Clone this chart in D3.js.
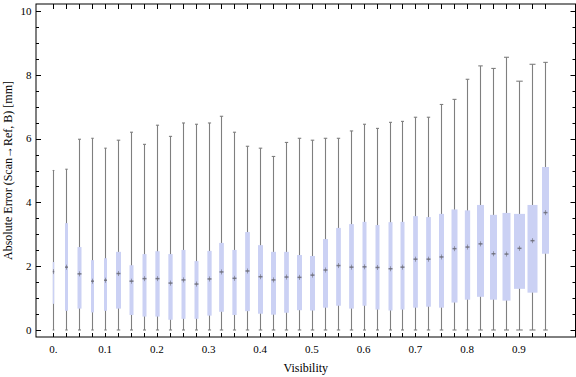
<!DOCTYPE html>
<html>
<head>
<meta charset="utf-8">
<script src="https://cdn.jsdelivr.net/npm/d3@7"></script>
<style>
  html, body { margin: 0; padding: 0; background: #fff; }
  svg { display: block; }
  text { font-family: "Liberation Serif", "DejaVu Serif", serif; fill: #000; }
</style>
</head>
<body>
<svg id="chart" width="576" height="377"></svg>
<script>
// ---- data ----
const visibility = [0, 0.025, 0.05, 0.075, 0.1, 0.125, 0.15, 0.175, 0.2, 0.225,
  0.25, 0.275, 0.3, 0.325, 0.35, 0.375, 0.4, 0.425, 0.45, 0.475,
  0.5, 0.525, 0.55, 0.575, 0.6, 0.625, 0.65, 0.675, 0.7, 0.725,
  0.75, 0.775, 0.8, 0.825, 0.85, 0.875, 0.9, 0.925, 0.95];
const whiskerMin = [0, 0, 0, 0, 0, 0, 0, 0, 0, 0,
  0, 0, 0, 0, 0, 0, 0, 0, 0, 0,
  0, 0, 0, 0, 0, 0, 0, 0, 0, 0,
  0, 0, 0, 0, 0, 0, 0, 0, 0];
const q1 = [0.82, 0.60, 0.67, 0.55, 0.60, 0.67, 0.47, 0.42, 0.42, 0.32,
  0.35, 0.35, 0.45, 0.57, 0.47, 0.59, 0.51, 0.48, 0.54, 0.62,
  0.61, 0.70, 0.76, 0.67, 0.76, 0.64, 0.61, 0.64, 0.70, 0.73,
  0.70, 0.86, 0.95, 1.04, 0.95, 0.92, 1.29, 1.17, 2.39];
const median = [1.83, 1.97, 1.76, 1.53, 1.56, 1.77, 1.53, 1.61, 1.61, 1.47,
  1.57, 1.44, 1.60, 1.82, 1.62, 1.85, 1.67, 1.57, 1.66, 1.65,
  1.72, 1.88, 2.02, 1.97, 1.98, 1.96, 1.92, 1.97, 2.22, 2.22,
  2.29, 2.55, 2.60, 2.70, 2.39, 2.38, 2.56, 2.80, 3.68];
const q3 = [2.13, 3.35, 2.60, 2.19, 2.25, 2.45, 2.03, 2.38, 2.47, 2.38,
  2.51, 2.16, 2.48, 2.73, 2.51, 3.07, 2.66, 2.45, 2.45, 2.35,
  2.32, 2.85, 3.20, 3.32, 3.39, 3.29, 3.38, 3.39, 3.57, 3.54,
  3.64, 3.78, 3.75, 3.92, 3.61, 3.67, 3.64, 3.92, 5.11];
const whiskerMax = [5.00, 5.04, 5.98, 6.01, 5.70, 5.95, 6.20, 5.82, 6.42, 6.07,
  6.49, 6.45, 6.49, 6.70, 6.20, 5.76, 5.70, 5.44, 5.88, 6.01,
  5.95, 6.01, 6.01, 6.24, 6.45, 6.32, 6.51, 6.54, 6.67, 6.67,
  7.07, 7.23, 7.86, 8.28, 8.20, 8.55, 7.80, 8.33, 8.39];
// relative box weight (drawn as box width)
const boxWeight = [1.5, 3, 4, 3, 3, 5, 4, 4, 4.3, 4.3,
  4, 4, 4.3, 4.7, 4.3, 4.7, 5, 5, 4.7, 5,
  5, 5, 4.7, 4.7, 4, 4, 4, 4, 4.7, 4.7,
  5, 6, 5.3, 7, 7, 8, 11, 10, 7];
const xTickLabels = ["0.", "0.1", "0.2", "0.3", "0.4", "0.5", "0.6", "0.7", "0.8", "0.9"];
const xTickValues = [0, 0.1, 0.2, 0.3, 0.4, 0.5, 0.6, 0.7, 0.8, 0.9];
const yTickValues = [0, 2, 4, 6, 8, 10];
const yMinorValues = [0.5, 1, 1.5, 2.5, 3, 3.5, 4.5, 5, 5.5, 6.5, 7, 7.5, 8.5, 9, 9.5];
const yLabel = "Absolute Error (Scan\u2192Ref, B) [mm]";
const xLabel = "Visibility";

// ---- layout ----
const L = 36, R = 575.5, T = 4, B = 337;
const svg = d3.select("#chart");
const x = d3.scaleLinear().domain([-0.0335, 1.0095]).range([L, R]);
const y = d3.scaleLinear().domain([-0.22, 10.22]).range([B, T]);
const w = d3.scaleLinear().domain([0, 11]).range([0, 11]);

const boxColor = "#cbd1f4";
const whiskerColor = "#7f7f7f";

const data = visibility.map((v, i) => ({
  v, lo: whiskerMin[i], q1: q1[i], med: median[i], q3: q3[i], hi: whiskerMax[i], wt: boxWeight[i]
}));

const g = svg.append("g");
// whiskers
g.selectAll("line.wh").data(data).enter().append("line")
  .attr("x1", d => Math.round(x(d.v)) + 0.5).attr("x2", d => Math.round(x(d.v)) + 0.5)
  .attr("y1", d => y(d.lo)).attr("y2", d => y(d.hi))
  .attr("stroke", whiskerColor).attr("stroke-width", 1.1);
// caps
["hi", "lo"].forEach(k => {
  g.selectAll("line.cap" + k).data(data).enter().append("line")
    .attr("x1", d => Math.round(x(d.v)) + 0.5 - (w(d.wt) * 0.5 + 1) / 2)
    .attr("x2", d => Math.round(x(d.v)) + 0.5 + (w(d.wt) * 0.5 + 1) / 2)
    .attr("y1", d => y(d[k])).attr("y2", d => y(d[k]))
    .attr("stroke", whiskerColor).attr("stroke-width", 1.1);
});
// boxes
g.selectAll("rect.box").data(data).enter().append("rect")
  .attr("x", d => Math.round(x(d.v)) + 0.5 - w(d.wt) / 2)
  .attr("width", d => w(d.wt))
  .attr("y", d => y(d.q3))
  .attr("height", d => y(d.q1) - y(d.q3))
  .attr("fill", boxColor);
// median markers
g.selectAll("rect.medh").data(data).enter().append("rect")
  .attr("x", d => Math.round(x(d.v)) + 0.5 - Math.min(w(d.wt), 4) / 2)
  .attr("width", d => Math.min(w(d.wt), 4))
  .attr("y", d => y(d.med) - 0.75).attr("height", 1.5)
  .attr("fill", "#6a6a74").attr("opacity", 0.85);
g.selectAll("rect.medv").data(data).enter().append("rect")
  .attr("x", d => Math.round(x(d.v)))
  .attr("width", 1)
  .attr("y", d => y(d.med) - 2.5).attr("height", 5)
  .attr("fill", "#6a6a74").attr("opacity", 0.6);

// frame
svg.append("rect").attr("x", L).attr("y", T).attr("width", R - L).attr("height", B - T)
  .attr("fill", "none").attr("stroke", "#000").attr("stroke-width", 1);

// x ticks (bottom and top) at every box position
const ax = svg.append("g").attr("stroke", "#000").attr("stroke-width", 1);
visibility.forEach(v => {
  const px = Math.round(x(v)) + 0.5;
  ax.append("line").attr("x1", px).attr("x2", px).attr("y1", B).attr("y2", B - 4);
  ax.append("line").attr("x1", px).attr("x2", px).attr("y1", T).attr("y2", T + 5);
});
// y ticks (left and right)
yTickValues.forEach(v => {
  const py = Math.round(y(v)) + 0.5;
  ax.append("line").attr("x1", L).attr("x2", L + 5).attr("y1", py).attr("y2", py);
  ax.append("line").attr("x1", R).attr("x2", R - 5).attr("y1", py).attr("y2", py);
});
yMinorValues.forEach(v => {
  const py = Math.round(y(v)) + 0.5;
  ax.append("line").attr("x1", L).attr("x2", L + 3).attr("y1", py).attr("y2", py);
  ax.append("line").attr("x1", R).attr("x2", R - 3).attr("y1", py).attr("y2", py);
});

// tick labels
svg.selectAll("text.xl").data(xTickValues).enter().append("text")
  .attr("x", d => x(d)).attr("y", 353)
  .attr("text-anchor", "middle").attr("font-size", 11)
  .text((d, i) => xTickLabels[i]);
svg.selectAll("text.yl").data(yTickValues).enter().append("text")
  .attr("x", 31.5).attr("y", d => y(d) + 3.8)
  .attr("text-anchor", "end").attr("font-size", 11)
  .text(d => d);

// axis titles
svg.append("text").attr("x", (L + R) / 2).attr("y", 372)
  .attr("text-anchor", "middle").attr("font-size", 12).text(xLabel);
svg.append("text")
  .attr("transform", `translate(11.5, ${(T + B) / 2}) rotate(-90)`)
  .attr("text-anchor", "middle").attr("font-size", 12).text(yLabel);
</script>
</body>
</html>
